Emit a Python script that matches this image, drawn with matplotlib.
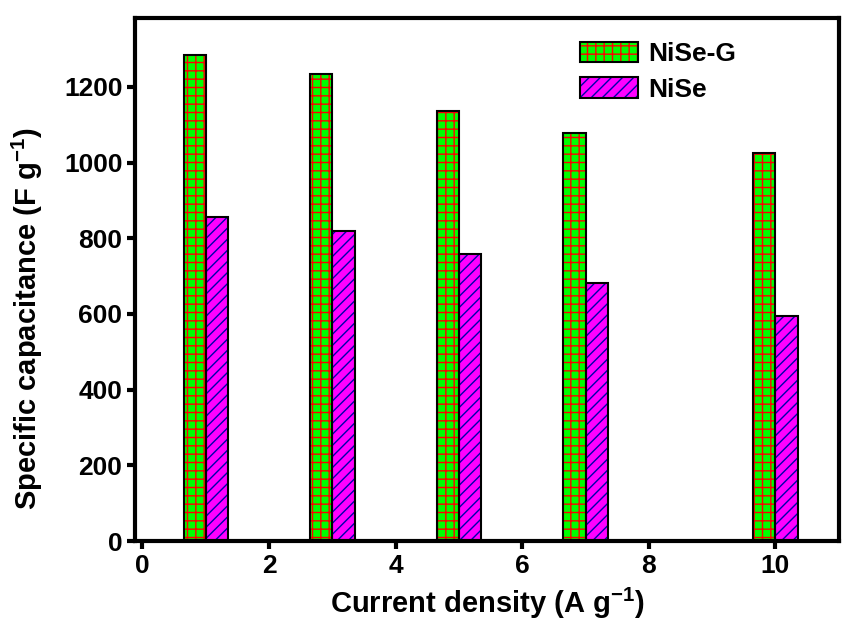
import matplotlib
matplotlib.use("Agg")
import matplotlib.pyplot as plt
import numpy as np
from matplotlib.patches import Rectangle
from matplotlib.legend_handler import HandlerBase

plt.rcParams['font.family'] = ['Liberation Sans', 'DejaVu Sans']
plt.rcParams['font.weight'] = 'bold'
plt.rcParams['mathtext.default'] = 'regular'
plt.rcParams['hatch.linewidth'] = 1.0

current_density = [1, 3, 5, 7, 10]
nise_g = [1285, 1235, 1137, 1078, 1025]
nise = [855, 820, 759, 682, 595]
xticks = [0, 2, 4, 6, 8, 10]
yticks = [0, 200, 400, 600, 800, 1000, 1200]

fig = plt.figure(figsize=(8.43, 6.24), dpi=100)
ax = fig.add_axes([0.16, 0.133, 0.835, 0.838])

x = np.array(current_density, dtype=float)
w = 0.35
ax.bar(x - w/2, nise_g, width=w, color='#00ff00', edgecolor='red', hatch='++', linewidth=0, zorder=2)
ax.bar(x - w/2, nise_g, width=w, facecolor='none', edgecolor='black', linewidth=1.5, zorder=3)
ax.bar(x + w/2, nise, width=w, color='#ff00ff', edgecolor='#0000aa', hatch='///', linewidth=0, zorder=2)
ax.bar(x + w/2, nise, width=w, facecolor='none', edgecolor='black', linewidth=1.5, zorder=3)


class DoubleRect(HandlerBase):
    def __init__(self, fc, hc, hatch):
        super().__init__()
        self.fc, self.hc, self.hatch = fc, hc, hatch

    def create_artists(self, legend, orig_handle, xdescent, ydescent, width, height, fontsize, trans):
        r1 = Rectangle((-xdescent, -ydescent), width, height, facecolor=self.fc, edgecolor=self.hc,
                       hatch=self.hatch, linewidth=0, transform=trans)
        r2 = Rectangle((-xdescent, -ydescent), width, height, facecolor='none', edgecolor='black',
                       linewidth=1.5, transform=trans)
        return [r1, r2]


h1 = Rectangle((0, 0), 1, 1)
h2 = Rectangle((0, 0), 1, 1)
fig.legend([h1, h2], ['NiSe-G', 'NiSe'],
           handler_map={h1: DoubleRect('#00ff00', 'red', '++'), h2: DoubleRect('#ff00ff', '#0000aa', '///')},
           loc='upper left', bbox_to_anchor=(580 / 843, 1 - 42 / 624), frameon=False, fontsize=19,
           borderpad=0, borderaxespad=0,
           handlelength=2.2, handleheight=0.8, handletextpad=0.4, labelspacing=0.42)

ax.set_xlim(-0.12, 11)
ax.set_ylim(0, 1382)
ax.set_xticks(xticks)
ax.set_yticks(yticks)
for s in ax.spines.values():
    s.set_linewidth(3)
ax.tick_params(axis='both', which='major', direction='out', length=6, width=3, labelsize=19, pad=3)

ax.set_xlabel('Current density (A g$^{-1}$)', fontsize=21, fontweight='bold', labelpad=6)
ax.set_ylabel('Specific capacitance (F g$^{-1}$)', fontsize=21, fontweight='bold')
ax.yaxis.set_label_coords(-0.128, 0.426)

fig.savefig('out.png', dpi=100)
